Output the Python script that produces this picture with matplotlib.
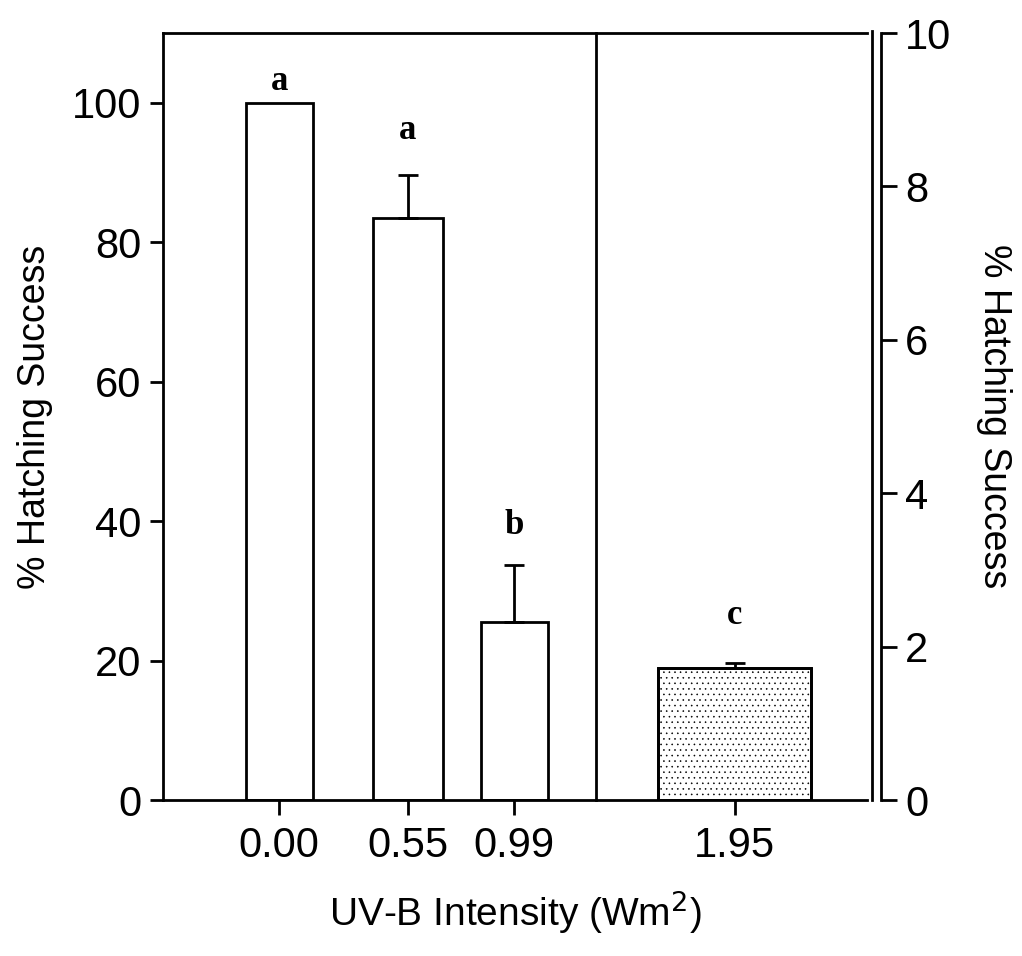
import matplotlib
matplotlib.use("Agg")
import matplotlib.pyplot as plt
from matplotlib.lines import Line2D

# Hatching success at each UV-B intensity
intensity_labels = ["0.00", "0.55", "0.99", "1.95"]
left_values = [100.0, 83.4, 25.5]      # left axis (%)
left_errors = [0.0, 6.3, 8.2]
right_values = [1.72]                  # right axis (%)
right_errors = [0.06]
group_letters = ["a", "a", "b", "c"]

left_ticks = [0, 20, 40, 60, 80, 100]
right_ticks = [0, 2, 4, 6, 8, 10]

# layout (axis units)
left_pos = [1.65, 3.48, 4.99]
left_width = [0.95, 1.0, 0.95]
right_pos = [8.12]
right_width = [2.17]
divider_x = 6.15
left_letter_gap = [3.0, 6.3, 5.6]   # gap above bar/error top, left units
right_letter_gap = [0.62]           # right units

plt.rcParams["font.family"] = ["Liberation Sans", "DejaVu Sans"]

fig = plt.figure(figsize=(10.22, 9.56), dpi=100)
L, R = 163 / 1022, 867 / 1022
B, T = 1 - 800 / 956, 1 - 33 / 956
ax = fig.add_axes([L, B, R - L, T - B])
ax2 = ax.twinx()

ax.set_xlim(0, 10)
ax.set_ylim(0, 110)
ax2.set_ylim(0, 10)

lw = 2.0
# left-scale bars
ax.bar(left_pos, left_values, width=left_width, color="white",
       edgecolor="black", linewidth=lw, zorder=2)
for x, v, e in zip(left_pos, left_values, left_errors):
    if e > 0:
        ax.errorbar(x, v, yerr=[[0], [e]], fmt="none", ecolor="black",
                    elinewidth=lw, capsize=7, capthick=lw, zorder=3)

# right-scale bar (fine stipple)
plt.rcParams["hatch.color"] = "#a8a8a8"
plt.rcParams["hatch.linewidth"] = 0.4
ax2.bar(right_pos, right_values, width=right_width, color="white",
        edgecolor="black", linewidth=lw, hatch="...", zorder=2)
ax2.bar(right_pos, right_values, width=right_width, color="none",
        edgecolor="black", linewidth=lw, zorder=3)
for x, v, e in zip(right_pos, right_values, right_errors):
    ax2.errorbar(x, v, yerr=[[0], [e]], fmt="none", ecolor="black",
                 elinewidth=lw, capsize=7, capthick=lw, zorder=4)

# significance letters
letter_font = dict(family=["Liberation Serif", "DejaVu Serif"], fontsize=25,
                   fontweight="bold", ha="center", va="center")
for x, v, e, g, s in zip(left_pos, left_values, left_errors,
                         left_letter_gap, group_letters[:3]):
    ax.text(x, v + e + g, s, **letter_font)
for x, v, e, g, s in zip(right_pos, right_values, right_errors,
                         right_letter_gap, group_letters[3:]):
    ax2.text(x, v + e + g, s, **letter_font)

# divider between the two scales
ax.plot([divider_x, divider_x], [0, 110], color="black", linewidth=lw,
        zorder=1, clip_on=False)

# spines
for s in ["left", "bottom", "top"]:
    ax.spines[s].set_linewidth(lw)
ax.spines["right"].set_visible(False)
for s in ["left", "bottom", "top"]:
    ax2.spines[s].set_visible(False)
ax2.spines["right"].set_position(("outward", 10))
ax2.spines["right"].set_linewidth(lw)
fig.add_artist(Line2D([872 / 1022] * 2, [B, T + 0.002], color="black",
                      linewidth=lw))

# ticks
ax.set_yticks(left_ticks)
ax.set_yticklabels([str(t) for t in left_ticks])
ax.set_xticks(left_pos + right_pos)
ax.set_xticklabels(intensity_labels)
ax.tick_params(axis="y", direction="out", length=9.5, width=lw,
               labelsize=30, pad=6)
ax.tick_params(axis="x", direction="out", length=11, width=lw,
               labelsize=30, pad=8)
ax2.set_yticks(right_ticks)
ax2.set_yticklabels([str(t) for t in right_ticks])
ax2.tick_params(axis="y", direction="out", length=11.5, width=lw,
                labelsize=30, pad=6)

ax.set_ylabel("% Hatching Success", fontsize=27, labelpad=14)
ax2.set_ylabel("% Hatching Success", fontsize=27, rotation=-90,
               va="bottom", labelpad=18)
ax.set_xlabel("UV-B Intensity (Wm$^{2}$)", fontsize=28, labelpad=16)

fig.savefig("out.png", dpi=100, facecolor="white")
